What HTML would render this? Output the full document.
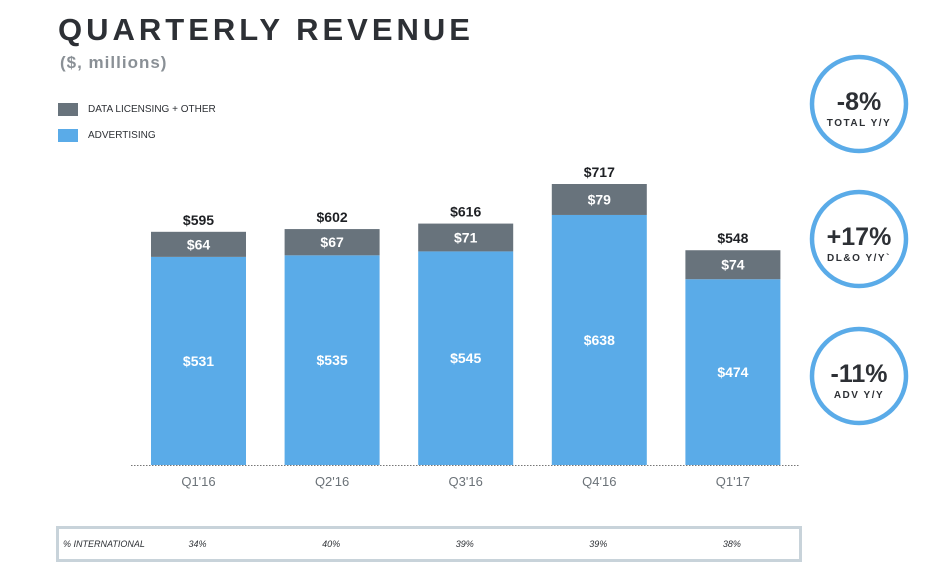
<!DOCTYPE html>
<html><head><meta charset="utf-8"><style>
body{margin:0;width:944px;height:578px;background:#fff;font-family:"Liberation Sans",sans-serif;overflow:hidden;position:relative}
.t{position:absolute;white-space:nowrap}
</style></head><body>
<div class="t" style="left:58px;top:12px;font-size:31px;font-weight:bold;letter-spacing:4px;color:#2d3035">QUARTERLY REVENUE</div>
<div class="t" style="left:60px;top:53px;font-size:17px;font-weight:bold;color:#8a9096;letter-spacing:1px">($, millions)</div>
<div class="t" style="left:58px;top:103px;font-size:10px;color:#2d3035"><span style="display:inline-block;width:20px;height:13px;background:#68737c;vertical-align:middle;margin-right:10px"></span>DATA LICENSING + OTHER</div>
<div class="t" style="left:58px;top:129px;font-size:10px;color:#2d3035"><span style="display:inline-block;width:20px;height:13px;background:#5aabe8;vertical-align:middle;margin-right:10px"></span>ADVERTISING</div>
<svg id="chart" width="944" height="578" style="position:absolute;left:0;top:0"></svg>
<div style="position:absolute;left:56px;top:526px;width:740px;height:30px;border:3px solid #c8d3da;font-size:9px;font-style:italic;color:#2d3035">
<span class="t" style="left:4px;top:10px">% INTERNATIONAL</span>
<span id="pcts"></span>
</div>
<script>
const categories=["Q1'16","Q2'16","Q3'16","Q4'16","Q1'17"];
const advertising=[531,535,545,638,474];
const dlo=[64,67,71,79,74];
const totals=[595,602,616,717,548];
const intl=["34%","40%","39%","39%","38%"];
const circleValues=["-8%","+17%","-11%"];
const circleLabels=["TOTAL Y/Y","DL&O Y/Y`","ADV Y/Y"];
const NS="http://www.w3.org/2000/svg";
const svg=document.getElementById('chart');
const baseY=465, scale=281/717, x0=151, step=133.6, bw=95;
const y=v=>baseY-v*scale;
const xc=i=>x0+i*step+bw/2;
function mk(tag,attrs,txt){const e=document.createElementNS(NS,tag);for(const k in attrs)e.setAttribute(k,attrs[k]);if(txt!==undefined)e.textContent=txt;svg.appendChild(e);return e;}
categories.forEach((c,i)=>{
  const x=x0+i*step;
  const a=mk('rect',{x:x,y:y(advertising[i]),width:bw,height:advertising[i]*scale,fill:'#5aabe8'});
  
  
  const d=mk('rect',{x:x,y:y(advertising[i]+dlo[i]),width:bw,height:dlo[i]*scale,fill:'#68737c'});
  
  
  const t1=mk('text',{x:xc(i),y:(y(advertising[i])+baseY)/2+5,'text-anchor':'middle','font-size':14,'font-weight':'bold',fill:'#fff'},'$'+advertising[i]);
  
  
  const t2=mk('text',{x:xc(i),y:y(advertising[i]+dlo[i]/2)+5,'text-anchor':'middle','font-size':14,'font-weight':'bold',fill:'#fff'},'$'+dlo[i]);
  
  
  const t3=mk('text',{x:xc(i),y:y(advertising[i]+dlo[i])-7,'text-anchor':'middle','font-size':14,'font-weight':'bold',fill:'#1e2024'},'$'+totals[i]);
  
  
  const t4=mk('text',{x:xc(i),y:486,'text-anchor':'middle','font-size':13,fill:'#6b7278'},c);
  
  
  const s=document.createElement('span');
  s.className='t';s.style.left=(xc(i)-56-3-10)+'px';s.style.top='10px';s.textContent=intl[i];
  
  
  document.getElementById('pcts').appendChild(s);
});
const bl=mk('line',{x1:131,y1:baseY+0.5,x2:800,y2:baseY+0.5,stroke:'#777','stroke-width':1,'stroke-dasharray':'1.5,1.5'});


const cy=[104,239,376];
circleValues.forEach((v,i)=>{
  const c=mk('circle',{cx:859,cy:cy[i],r:47,fill:'#fff',stroke:'#5aabe8','stroke-width':4.5});
  
  
  const a=mk('text',{x:859,y:cy[i]+6,'text-anchor':'middle','font-size':25,'font-weight':'bold',fill:'#2d3035'},v);
  
  
  const b=mk('text',{x:859,y:cy[i]+22,'text-anchor':'middle','font-size':10,'font-weight':'bold',fill:'#2d3035','letter-spacing':1.5},circleLabels[i]);
  
  
});
</script>
</body></html>
